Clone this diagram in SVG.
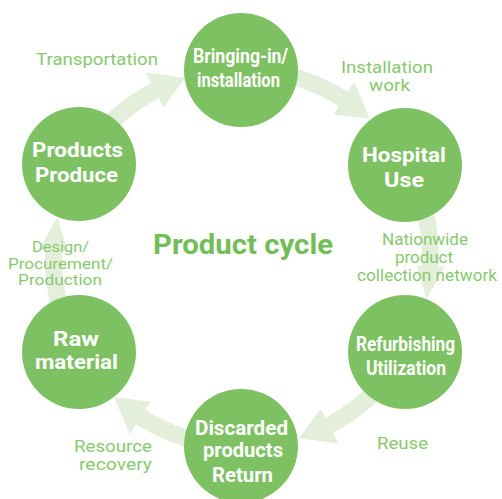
<svg xmlns="http://www.w3.org/2000/svg" xmlns:xlink="http://www.w3.org/1999/xlink" width="502" height="499" viewBox="0 0 502 499">
  <defs>
    <path id="arrowA" d="M195.08,27.42 A197,197 0 0 1 166.15,105.85 L176.27,112.30 L139.35,127.69 L143.38,91.34 L151.81,96.71 A180,180 0 0 0 178.25,25.05 Z"/>
    <path id="arrowB" d="M195.08,27.42 A197,197 0 0 1 166.15,105.85 L171.21,109.07 L139.35,127.69 L147.59,94.03 L151.81,96.71 A180,180 0 0 0 178.25,25.05 Z"/>
  </defs>
  <style>
    .arrow { fill: #e3efda; }
    .node circle { fill: #7dc163; }
    .node text { fill: #ffffff; font-family: Roboto, "Liberation Sans", sans-serif; font-weight: bold; font-size: 20px; text-anchor: middle; }
    .label { fill: #88c96f; font-family: Roboto, "Liberation Sans", sans-serif; font-size: 16px; text-anchor: middle; }
    .small { font-size: 14.5px; }
    .title { fill: #72bd58; font-family: Roboto, "Liberation Sans", sans-serif; font-weight: bold; font-size: 28px; text-anchor: middle; }
  </style>
  <rect width="502" height="499" fill="#ffffff"/>
  <g id="connectors">
    <use xlink:href="#arrowA" class="arrow" transform="translate(242 258) rotate(210)"/>
    <use xlink:href="#arrowA" class="arrow" transform="translate(242 258) rotate(270)"/>
    <use xlink:href="#arrowB" class="arrow" transform="translate(242 258) rotate(330)"/>
    <use xlink:href="#arrowA" class="arrow" transform="translate(242 258) rotate(30)"/>
    <use xlink:href="#arrowA" class="arrow" transform="translate(242 258) rotate(90)"/>
    <use xlink:href="#arrowB" class="arrow" transform="translate(242 258) rotate(150)"/>
  </g>
  <g id="labels">
    <text class="label" x="97" y="65" textLength="122" lengthAdjust="spacingAndGlyphs">Transportation</text>
    <text class="label" x="387" y="73" textLength="92" lengthAdjust="spacingAndGlyphs">Installation</text>
    <text class="label" x="389.5" y="91" textLength="41" lengthAdjust="spacingAndGlyphs">work</text>
    <text class="label" x="425" y="245" textLength="86" lengthAdjust="spacingAndGlyphs">Nationwide</text>
    <text class="label" x="424" y="263" textLength="58" lengthAdjust="spacingAndGlyphs">product</text>
    <text class="label" x="427" y="281" textLength="140" lengthAdjust="spacingAndGlyphs">collection network</text>
    <text class="label small" x="60.5" y="252" textLength="57" lengthAdjust="spacingAndGlyphs">Design/</text>
    <text class="label small" x="60.5" y="268.5" textLength="105" lengthAdjust="spacingAndGlyphs">Procurement/</text>
    <text class="label small" x="60" y="285" textLength="84" lengthAdjust="spacingAndGlyphs">Production</text>
    <text class="label" x="113" y="452" textLength="78" lengthAdjust="spacingAndGlyphs">Resource</text>
    <text class="label" x="115.5" y="470" textLength="73" lengthAdjust="spacingAndGlyphs">recovery</text>
    <text class="label" x="402.5" y="449" textLength="51" lengthAdjust="spacingAndGlyphs">Reuse</text>
    <text class="title" x="243" y="254" textLength="180" lengthAdjust="spacingAndGlyphs">Product cycle</text>
  </g>
  <g id="node-bringing-in" class="node">
    <circle cx="241" cy="70" r="57"/>
    <text x="240.5" y="63" textLength="95" lengthAdjust="spacingAndGlyphs">Bringing-in/</text>
    <text x="238.5" y="87" textLength="83" lengthAdjust="spacingAndGlyphs">installation</text>
  </g>
  <g id="node-hospital" class="node">
    <circle cx="405" cy="165" r="57"/>
    <text x="404" y="162" textLength="84" lengthAdjust="spacingAndGlyphs">Hospital</text>
    <text x="404" y="187" textLength="40" lengthAdjust="spacingAndGlyphs">Use</text>
  </g>
  <g id="node-refurbishing" class="node">
    <circle cx="405" cy="352" r="57"/>
    <text x="405.5" y="351" textLength="99" lengthAdjust="spacingAndGlyphs">Refurbishing</text>
    <text x="406" y="375" textLength="80" lengthAdjust="spacingAndGlyphs">Utilization</text>
  </g>
  <g id="node-discarded" class="node">
    <circle cx="241" cy="446" r="57"/>
    <text x="241.5" y="435" textLength="93" lengthAdjust="spacingAndGlyphs">Discarded</text>
    <text x="243" y="457" textLength="80" lengthAdjust="spacingAndGlyphs">products</text>
    <text x="242.5" y="482" textLength="61" lengthAdjust="spacingAndGlyphs">Return</text>
  </g>
  <g id="node-raw" class="node">
    <circle cx="79" cy="352" r="57"/>
    <text x="76" y="346" textLength="46" lengthAdjust="spacingAndGlyphs">Raw</text>
    <text x="76.5" y="369" textLength="83" lengthAdjust="spacingAndGlyphs">material</text>
  </g>
  <g id="node-products" class="node">
    <circle cx="79" cy="164" r="57"/>
    <text x="77.5" y="157" textLength="91" lengthAdjust="spacingAndGlyphs">Products</text>
    <text x="76.5" y="182" textLength="83" lengthAdjust="spacingAndGlyphs">Produce</text>
  </g>
</svg>
